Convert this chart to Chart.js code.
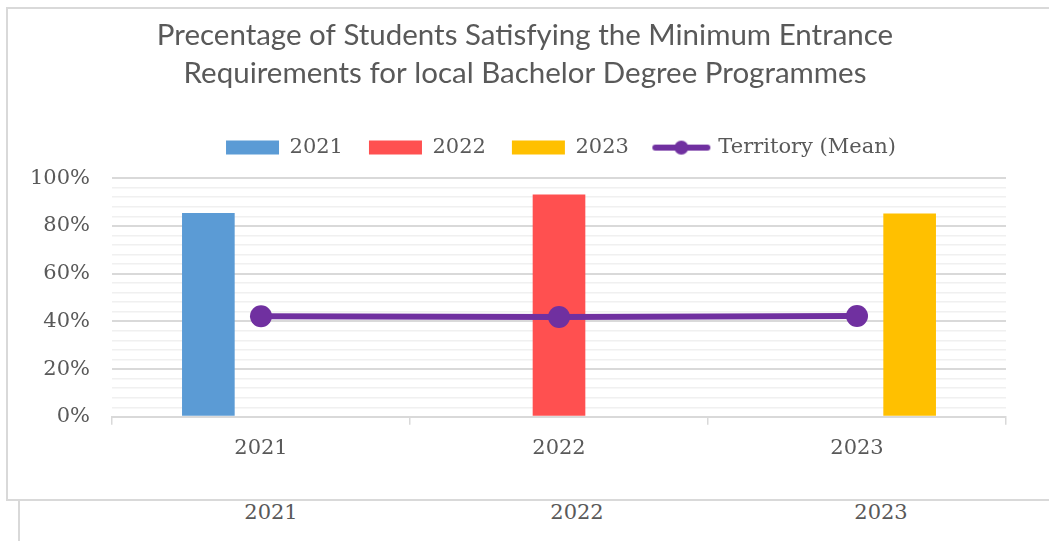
<!DOCTYPE html>
<html>
<head>
<meta charset="utf-8">
<script src="https://cdn.jsdelivr.net/npm/chart.js@4.4.1/dist/chart.umd.min.js"></script>
<style>
  html, body { margin: 0; padding: 0; background: #fff; }
  body { width: 1049px; height: 541px; position: relative; overflow: hidden; }
  #box {
    position: absolute; left: 6px; top: 7px; width: 1043px; height: 490px;
    border-top: 2px solid #d9d9d9; border-left: 2px solid #d9d9d9; border-bottom: 2px solid #d9d9d9;
  }
  #stub { position: absolute; left: 18px; top: 499px; width: 2px; height: 42px; background: #d9d9d9; }
  .lower { position: absolute; top: 500px; width: 100px; margin-left: -50px; text-align: center;
    font-family: "DejaVu Serif", serif; font-size: 21px; color: #595959; }
</style>
</head>
<body>
<div id="box"><canvas id="satChart"></canvas></div>
<div id="stub"></div>
<div id="lowerLabels"></div>
<script>
// categories and values
const years = ['2021', '2022', '2023'];
const value2021 = [85.4, null, null];
const value2022 = [null, 93.1, null];
const value2023 = [null, null, 85.2];
const territoryMean = [42.1, 41.8, 42.2];
const yTickLabels = ['0%', '20%', '40%', '60%', '80%', '100%'];

const titleLines = ['Precentage of Students Satisfying the Minimum Entrance',
  'Requirements for local Bachelor Degree Programmes'];

const serif = '"DejaVu Serif", serif';
const grey = '#595959';

// small picture for the line+marker legend entry
function lineMarker() {
  const c = document.createElement('canvas');
  c.width = 60; c.height = 20;
  const g = c.getContext('2d');
  g.strokeStyle = '#7030a0';
  g.lineWidth = 6;
  g.lineCap = 'round';
  g.beginPath(); g.moveTo(4, 10); g.lineTo(56, 10); g.stroke();
  g.fillStyle = '#7030a0';
  g.beginPath(); g.arc(30, 10, 7, 0, Math.PI * 2); g.fill();
  return c;
}

// title and legend are not centred on the same spot in the original
const shiftBlocks = {
  id: 'shiftBlocks',
  afterLayout(chart) {
    const move = (box, target) => {
      if (!box) return;
      const d = target - (box.left + box.right) / 2;
      box.left += d; box.right += d;
    };
    move(chart.titleBlock, 517);
    move(chart.legend, 553);
  }
};

const ctx = document.getElementById('satChart').getContext('2d');
const satChart = new Chart(ctx, {
  type: 'bar',
  data: {
    labels: years,
    datasets: [
      { label: '2021', data: value2021, backgroundColor: '#5b9bd5', order: 2 },
      { label: '2022', data: value2022, backgroundColor: '#ff5050', order: 2 },
      { label: '2023', data: value2023, backgroundColor: '#ffc000', order: 2 },
      {
        type: 'line', label: 'Territory (Mean)', data: territoryMean,
        borderColor: '#7030a0', backgroundColor: '#7030a0', borderWidth: 6,
        pointRadius: 11, pointHoverRadius: 11, pointBackgroundColor: '#7030a0',
        pointBorderWidth: 0, tension: 0, order: 1
      }
    ]
  },
  plugins: [shiftBlocks],
  options: {
    responsive: true,
    maintainAspectRatio: false,
    animation: false,
    layout: { padding: { left: 0, right: 45, top: 0, bottom: 27 } },
    datasets: { bar: { categoryPercentage: 0.53, barPercentage: 1, grouped: true } },
    scales: {
      x: {
        grid: { display: true, drawOnChartArea: false, offset: true, tickLength: 8, color: '#d9d9d9', lineWidth: 1.5 },
        border: { color: '#d9d9d9', width: 2 },
        ticks: { color: grey, font: { family: serif, size: 21 }, padding: 11 }
      },
      y: {
        min: 0, max: 100,
        afterFit: scale => { scale.width = 104; },
        grid: {
          drawTicks: false,
          color: ctx => (ctx.tick && ctx.tick.value % 20 === 0) ? '#d9d9d9' : '#f0f0f0',
          lineWidth: ctx => (ctx.tick && ctx.tick.value % 20 === 0) ? 2 : 1.5
        },
        border: { display: false },
        ticks: {
          stepSize: 4, autoSkip: false, padding: 22, color: grey,
          font: { family: serif, size: 21 },
          callback: v => (v % 20 === 0) ? yTickLabels[v / 20] : ''
        }
      }
    },
    plugins: {
      title: {
        display: true, text: titleLines, color: grey,
        font: { family: 'Lato', size: 29.5, weight: 'normal', lineHeight: 1.29 },
        padding: { top: 7, bottom: 19 }
      },
      subtitle: {
        display: true, text: ' ', weight: 900,
        font: { size: 1, lineHeight: 1 },
        padding: { top: 0, bottom: 9 }
      },
      legend: {
        position: 'top',
        labels: {
          usePointStyle: true, pointStyleWidth: 53, boxHeight: 14,
          padding: 26, color: grey, font: { family: serif, size: 21 },
          generateLabels: chart => chart.data.datasets.map((ds, i) => ({
            text: ds.label,
            fillStyle: ds.backgroundColor,
            strokeStyle: ds.backgroundColor,
            lineWidth: 0,
            pointStyle: ds.type === 'line' ? lineMarker() : 'rect',
            fontColor: grey,
            datasetIndex: i,
            hidden: false
          }))
        }
      },
      tooltip: { enabled: false }
    }
  }
});

// the second row of year labels under the frame
const lowerPos = [271, 577, 881];
const holder = document.getElementById('lowerLabels');
years.forEach((y, i) => {
  const d = document.createElement('div');
  d.className = 'lower';
  d.style.left = lowerPos[i] + 'px';
  d.textContent = y;
  holder.appendChild(d);
});
</script>
</body>
</html>
